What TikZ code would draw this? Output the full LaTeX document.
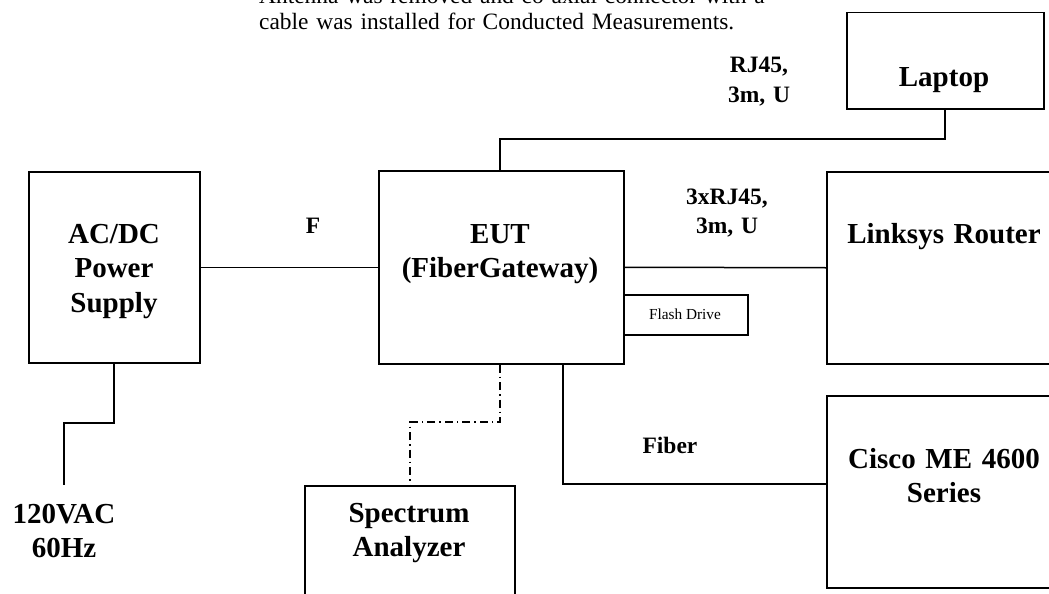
\documentclass[tikz,border=0pt]{standalone}
\usepackage{fontspec}
\setmainfont{Liberation Serif}
\begin{document}
\begin{tikzpicture}[x=1pt,y=-1pt,
  box/.style={draw, line width=1.5pt, rectangle, inner sep=0pt, anchor=north west},
  big/.style={font=\fontsize{29}{34.5}\selectfont\bfseries, align=center, text width=260pt, inner sep=0pt, anchor=base},
  lab/.style={font=\fontsize{23.5}{29}\selectfont\bfseries, align=center, text width=160pt, inner sep=0pt, anchor=base},
  wire/.style={line width=1.5pt},
  dd/.style={line width=1.5pt, dash pattern=on 8pt off 4pt on 1.5pt off 4pt}]
\useasboundingbox (0,0) rectangle (1049,594);
\clip (0,0) rectangle (1049,594);
% boxes
\node[box, minimum width=171pt, minimum height=191pt] (psu) at (28,171) {};
\node[box, minimum width=245pt, minimum height=193pt] (eut) at (378,170) {};
\node[box, minimum width=197pt, minimum height=96pt] (laptop) at (846,12) {};
\node[box, minimum width=260pt, minimum height=192pt] (router) at (826,171) {};
\node[box, minimum width=260pt, minimum height=192pt] (cisco) at (826,395) {};
\node[box, minimum width=124pt, minimum height=40pt] (flash) at (623,294) {};
\node[box, minimum width=210pt, minimum height=150pt] (spec) at (304,485) {};
% texts
\node[big] (psuT) at (114,243) {AC/DC\\Power\\Supply};
\node[big] (eutT) at (500,243) {EUT\\(FiberGateway)};
\node[big] (laptopT) at (944,86) {Laptop};
\node[big] (routerT) at (944,243) {Linksys Router};
\node[big] (ciscoT) at (944,468) {Cisco ME 4600\\Series};
\node[big] (specT) at (409,522) {Spectrum\\Analyzer};
\node[big] (acT) at (64,523) {120VAC\\60Hz};
\node[font=\fontsize{15.3}{18}\selectfont, inner sep=0pt, anchor=base] (flashT) at (685,319) {Flash Drive};
\node[lab] (fT) at (313,233) {F};
\node[lab] (rj1T) at (759,73) {RJ45,\\3m, U};
\node[lab] (rj3T) at (727,204) {3xRJ45,\\3m, U};
\node[lab] (fibT) at (670,453) {Fiber};
\node[font=\fontsize{23.4}{26}\selectfont, align=left, text width=520pt, inner sep=0pt, anchor=base west] (note) at (259,4)
  {Antenna was removed and co-axial connector with a\\cable was installed for Conducted Measurements.};
% connectors
\coordinate (ac) at (64,485);
\draw[wire] (psu.east) -- (eut.west);
\draw[wire] (eut.east) -- (router.west);
\draw[wire] (114,0 |- psu.south) -- (114,423) -- (64,423) -- (ac);
\draw[wire] (500,0 |- eut.north) -- (500,139) -- (945,139) -- (945,0 |- laptop.south);
\draw[wire] (563,0 |- eut.south) -- (563,484) -- (cisco.west |- 0,484);
\draw[dd] (500,0 |- eut.south) -- (500,422) -- (410,422) -- (410,0 |- spec.north);
\end{tikzpicture}
\end{document}
